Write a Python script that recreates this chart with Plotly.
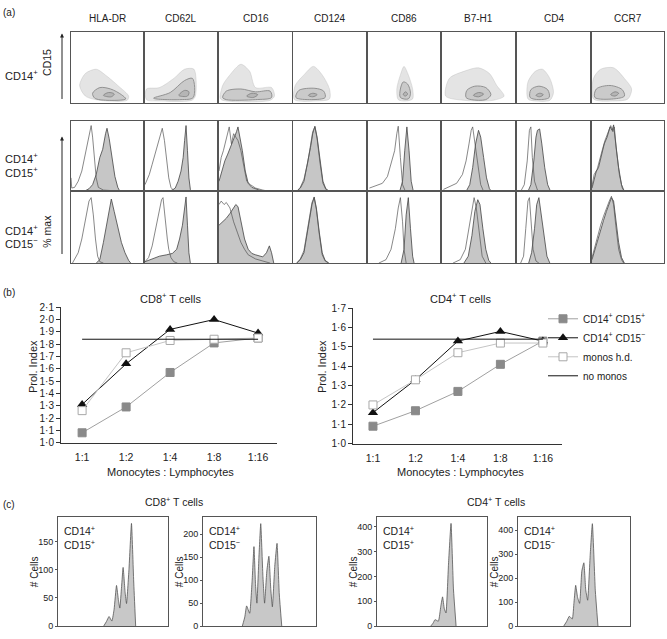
import plotly.graph_objects as go

W, H = 667, 639
FONT = "Liberation Sans, Arial, sans-serif"
INK = "#222222"

# ---------------- panel (a) data (normalised box coordinates) ----------------
markers = ["HLA-DR", "CD62L", "CD16", "CD124", "CD86", "B7-H1", "CD4", "CCR7"]

# dot-plot clouds (CD15 vs marker, CD14+ gate): outer cloud, contour, core
dot_cloud = [
    [(0.12, 0.25), (0.2, 0.42), (0.35, 0.48), (0.5, 0.38), (0.65, 0.25), (0.8, 0.1), (0.78, 0.04), (0.4, 0.04), (0.2, 0.1)],
    [(0.02, 0.05), (0.02, 0.2), (0.2, 0.22), (0.4, 0.35), (0.55, 0.48), (0.68, 0.48), (0.7, 0.1), (0.65, 0.04), (0.2, 0.03)],
    [(0.02, 0.06), (0.05, 0.25), (0.15, 0.4), (0.3, 0.55), (0.42, 0.45), (0.5, 0.22), (0.72, 0.22), (0.76, 0.1), (0.7, 0.04), (0.1, 0.03)],
    [(0.02, 0.05), (0.03, 0.25), (0.15, 0.4), (0.28, 0.52), (0.4, 0.4), (0.5, 0.2), (0.5, 0.06), (0.3, 0.03)],
    [(0.42, 0.05), (0.4, 0.2), (0.45, 0.4), (0.5, 0.52), (0.56, 0.4), (0.62, 0.2), (0.62, 0.06), (0.52, 0.03)],
    [(0.05, 0.1), (0.1, 0.35), (0.3, 0.45), (0.5, 0.5), (0.65, 0.42), (0.75, 0.25), (0.85, 0.1), (0.7, 0.04), (0.3, 0.04)],
    [(0.15, 0.06), (0.15, 0.3), (0.25, 0.45), (0.35, 0.48), (0.45, 0.35), (0.5, 0.15), (0.45, 0.04), (0.25, 0.03)],
    [(0.02, 0.06), (0.02, 0.35), (0.12, 0.48), (0.3, 0.5), (0.45, 0.35), (0.55, 0.2), (0.5, 0.06), (0.3, 0.03)],
]
dot_contour = [
    [(0.3, 0.14), (0.4, 0.22), (0.55, 0.2), (0.7, 0.12), (0.76, 0.06), (0.5, 0.04), (0.33, 0.07)],
    [(0.12, 0.07), (0.35, 0.15), (0.55, 0.32), (0.66, 0.35), (0.67, 0.08), (0.5, 0.05)],
    [(0.05, 0.08), (0.1, 0.17), (0.3, 0.2), (0.5, 0.16), (0.7, 0.17), (0.72, 0.08), (0.5, 0.05), (0.1, 0.05)],
    [(0.04, 0.08), (0.08, 0.18), (0.3, 0.21), (0.42, 0.17), (0.44, 0.08), (0.25, 0.05)],
    [(0.45, 0.08), (0.45, 0.2), (0.49, 0.3), (0.55, 0.27), (0.59, 0.14), (0.56, 0.06)],
    [(0.33, 0.08), (0.34, 0.18), (0.45, 0.24), (0.6, 0.22), (0.67, 0.12), (0.6, 0.05), (0.4, 0.05)],
    [(0.18, 0.08), (0.19, 0.19), (0.3, 0.24), (0.42, 0.19), (0.44, 0.08), (0.3, 0.05)],
    [(0.04, 0.08), (0.06, 0.2), (0.25, 0.25), (0.42, 0.19), (0.45, 0.1), (0.3, 0.06)],
]
dot_core = [
    [(0.45, 0.11), (0.52, 0.15), (0.6, 0.13), (0.56, 0.09)],
    [(0.47, 0.11), (0.55, 0.18), (0.61, 0.16), (0.59, 0.1)],
    [(0.38, 0.1), (0.45, 0.14), (0.53, 0.12), (0.47, 0.08)],
    [(0.21, 0.11), (0.27, 0.14), (0.33, 0.12), (0.27, 0.09)],
    [(0.49, 0.12), (0.52, 0.16), (0.55, 0.13), (0.52, 0.1)],
    [(0.43, 0.11), (0.5, 0.15), (0.57, 0.13), (0.5, 0.09)],
    [(0.26, 0.11), (0.31, 0.14), (0.36, 0.12), (0.31, 0.09)],
    [(0.26, 0.12), (0.32, 0.16), (0.37, 0.14), (0.32, 0.1)],
]

# % max histograms: filled = marker stain, open = isotype control
hist_pos_filled = [
    [(0.18, 0), (0.25, 0.04), (0.3, 0.1), (0.35, 0.25), (0.4, 0.5), (0.44, 0.62), (0.48, 0.85), (0.5, 0.93), (0.53, 0.78), (0.57, 0.5), (0.61, 0.22), (0.65, 0.06), (0.68, 0)],
    [(0.3, 0), (0.38, 0.02), (0.42, 0.05), (0.46, 0.15), (0.5, 0.3), (0.53, 0.5), (0.55, 0.75), (0.57, 0.97), (0.59, 0.6), (0.61, 0.2), (0.63, 0.03), (0.65, 0)],
    [(0, 0.15), (0.04, 0.3), (0.08, 0.45), (0.12, 0.55), (0.17, 0.68), (0.21, 0.8), (0.24, 0.88), (0.26, 0.95), (0.28, 0.85), (0.32, 0.6), (0.36, 0.3), (0.4, 0.12), (0.45, 0.06), (0.55, 0.02), (0.6, 0)],
    [(0.05, 0), (0.1, 0.05), (0.15, 0.15), (0.2, 0.4), (0.24, 0.65), (0.27, 0.85), (0.3, 0.96), (0.33, 0.8), (0.37, 0.45), (0.41, 0.15), (0.45, 0.04), (0.5, 0)],
    [(0.44, 0), (0.48, 0.15), (0.51, 0.6), (0.54, 0.95), (0.57, 0.6), (0.6, 0.15), (0.63, 0)],
    [(0.33, 0), (0.38, 0.1), (0.42, 0.35), (0.46, 0.7), (0.5, 0.9), (0.53, 0.8), (0.57, 0.5), (0.61, 0.2), (0.65, 0.04), (0.68, 0)],
    [(0.15, 0), (0.19, 0.1), (0.23, 0.45), (0.26, 0.8), (0.28, 0.9), (0.31, 0.92), (0.34, 0.7), (0.38, 0.35), (0.42, 0.1), (0.46, 0)],
    [(0, 0.05), (0.03, 0.2), (0.06, 0.3), (0.09, 0.35), (0.13, 0.55), (0.17, 0.7), (0.21, 0.8), (0.25, 0.95), (0.28, 0.9), (0.3, 0.98), (0.33, 0.7), (0.37, 0.35), (0.41, 0.1), (0.45, 0)],
]
hist_pos_open = [
    [(0, 0.2), (0.01, 0.05), (0.05, 0.06), (0.1, 0.15), (0.15, 0.3), (0.2, 0.55), (0.23, 0.75), (0.26, 0.9), (0.28, 0.97), (0.3, 0.8), (0.32, 0.5), (0.35, 0.2), (0.38, 0.06), (0.45, 0.02), (0.6, 0.01), (0.7, 0)],
    [(0, 0.1), (0.02, 0.15), (0.06, 0.25), (0.1, 0.4), (0.14, 0.55), (0.18, 0.7), (0.21, 0.85), (0.24, 0.93), (0.27, 0.75), (0.3, 0.45), (0.33, 0.2), (0.36, 0.06), (0.4, 0.01), (0.45, 0)],
    [(0, 0.3), (0.03, 0.5), (0.06, 0.6), (0.09, 0.75), (0.12, 0.9), (0.14, 0.95), (0.17, 0.7), (0.2, 0.85), (0.23, 0.8), (0.26, 0.75), (0.3, 0.6), (0.34, 0.35), (0.38, 0.15), (0.43, 0.1), (0.5, 0.05), (0.6, 0.02), (0.7, 0)],
    [(0.05, 0), (0.1, 0.06), (0.15, 0.18), (0.2, 0.42), (0.24, 0.68), (0.27, 0.88), (0.3, 0.95), (0.33, 0.78), (0.37, 0.42), (0.41, 0.12), (0.45, 0.03), (0.5, 0)],
    [(0.02, 0.05), (0.1, 0.08), (0.2, 0.12), (0.27, 0.22), (0.32, 0.4), (0.37, 0.6), (0.4, 0.85), (0.42, 0.96), (0.45, 0.5), (0.48, 0.1), (0.52, 0)],
    [(0.02, 0.03), (0.1, 0.07), (0.2, 0.12), (0.28, 0.25), (0.33, 0.45), (0.37, 0.7), (0.4, 0.9), (0.42, 0.95), (0.45, 0.7), (0.49, 0.35), (0.53, 0.1), (0.57, 0)],
    [(0.05, 0), (0.1, 0.1), (0.14, 0.45), (0.17, 0.9), (0.19, 0.95), (0.21, 0.5), (0.24, 0.15), (0.28, 0.02), (0.32, 0)],
    [(0, 0.08), (0.03, 0.25), (0.07, 0.32), (0.1, 0.45), (0.14, 0.6), (0.18, 0.75), (0.22, 0.85), (0.26, 0.97), (0.29, 0.88), (0.31, 0.95), (0.34, 0.6), (0.38, 0.25), (0.42, 0.05), (0.45, 0)],
]
hist_neg_filled = [
    [(0.35, 0), (0.4, 0.05), (0.45, 0.3), (0.5, 0.6), (0.54, 0.85), (0.56, 0.93), (0.6, 0.75), (0.65, 0.5), (0.7, 0.3), (0.75, 0.15), (0.8, 0.04), (0.83, 0)],
    [(0, 0.02), (0.1, 0.06), (0.2, 0.1), (0.3, 0.12), (0.38, 0.14), (0.44, 0.2), (0.48, 0.35), (0.52, 0.55), (0.55, 0.8), (0.57, 0.96), (0.59, 0.55), (0.61, 0.15), (0.63, 0)],
    [(0, 0.55), (0.05, 0.6), (0.1, 0.65), (0.15, 0.72), (0.2, 0.8), (0.23, 0.85), (0.26, 0.82), (0.3, 0.6), (0.35, 0.35), (0.4, 0.2), (0.45, 0.14), (0.5, 0.12), (0.55, 0.1), (0.6, 0.09), (0.65, 0.15), (0.69, 0.25), (0.72, 0.15), (0.75, 0)],
    [(0.05, 0), (0.1, 0.05), (0.15, 0.15), (0.19, 0.4), (0.23, 0.65), (0.26, 0.85), (0.29, 0.96), (0.32, 0.8), (0.36, 0.45), (0.4, 0.15), (0.44, 0.04), (0.49, 0)],
    [(0.46, 0), (0.5, 0.2), (0.53, 0.7), (0.56, 0.95), (0.59, 0.5), (0.62, 0.1), (0.64, 0)],
    [(0.3, 0), (0.36, 0.1), (0.41, 0.4), (0.45, 0.75), (0.49, 0.92), (0.52, 0.85), (0.56, 0.5), (0.6, 0.2), (0.64, 0.04), (0.67, 0)],
    [(0.16, 0), (0.2, 0.15), (0.24, 0.5), (0.27, 0.85), (0.3, 0.95), (0.33, 0.7), (0.37, 0.35), (0.41, 0.1), (0.45, 0)],
    [(0, 0.05), (0.04, 0.2), (0.08, 0.35), (0.12, 0.5), (0.16, 0.62), (0.2, 0.75), (0.24, 0.88), (0.27, 0.95), (0.3, 0.9), (0.33, 0.65), (0.37, 0.3), (0.41, 0.08), (0.45, 0)],
]
hist_neg_open = [
    [(0.02, 0), (0.05, 0.05), (0.1, 0.15), (0.15, 0.35), (0.2, 0.65), (0.25, 0.9), (0.28, 0.95), (0.31, 0.7), (0.34, 0.35), (0.37, 0.1), (0.4, 0.02), (0.45, 0)],
    [(0, 0.02), (0.05, 0.08), (0.1, 0.25), (0.15, 0.5), (0.2, 0.75), (0.23, 0.92), (0.25, 0.95), (0.28, 0.6), (0.31, 0.35), (0.33, 0.2), (0.36, 0.08), (0.4, 0.02), (0.45, 0)],
    [(0, 0.85), (0.03, 0.9), (0.07, 0.85), (0.1, 0.88), (0.15, 0.8), (0.2, 0.6), (0.25, 0.45), (0.3, 0.3), (0.35, 0.2), (0.4, 0.12), (0.5, 0.06), (0.6, 0.03), (0.7, 0)],
    [(0.05, 0), (0.1, 0.06), (0.15, 0.18), (0.19, 0.42), (0.23, 0.68), (0.26, 0.88), (0.29, 0.95), (0.32, 0.78), (0.36, 0.42), (0.4, 0.12), (0.44, 0.03), (0.49, 0)],
    [(0.15, 0), (0.25, 0.05), (0.32, 0.2), (0.38, 0.5), (0.42, 0.8), (0.45, 0.95), (0.48, 0.6), (0.5, 0.2), (0.53, 0)],
    [(0.15, 0), (0.25, 0.05), (0.32, 0.2), (0.37, 0.5), (0.41, 0.8), (0.44, 0.95), (0.47, 0.8), (0.51, 0.4), (0.55, 0.1), (0.6, 0)],
    [(0.05, 0), (0.09, 0.1), (0.12, 0.5), (0.15, 0.9), (0.17, 0.95), (0.19, 0.6), (0.22, 0.2), (0.26, 0.03), (0.3, 0)],
    [(0, 0.08), (0.04, 0.25), (0.08, 0.42), (0.12, 0.55), (0.16, 0.68), (0.2, 0.8), (0.24, 0.9), (0.27, 0.97), (0.3, 0.85), (0.33, 0.55), (0.37, 0.2), (0.41, 0.05), (0.44, 0)],
]

# ---------------- panel (b) data ----------------
ratios = ["1:1", "1:2", "1:4", "1:8", "1:16"]
series_names = ["CD14<sup>+</sup> CD15<sup>+</sup>", "CD14<sup>+</sup> CD15<sup>\u2212</sup>", "monos h.d.", "no monos"]
cd8_cd15pos = [1.08, 1.29, 1.57, 1.81, 1.85]
cd8_cd15neg = [1.31, 1.64, 1.92, 2.00, 1.89]
cd8_monos_hd = [1.26, 1.73, 1.83, 1.84, 1.85]
cd8_no_monos = 1.84
cd4_cd15pos = [1.09, 1.17, 1.27, 1.41, 1.53]
cd4_cd15neg = [1.16, 1.33, 1.53, 1.58, 1.53]
cd4_monos_hd = [1.20, 1.33, 1.47, 1.52, 1.52]
cd4_no_monos = 1.54
cd8_ticks = [1.0, 1.1, 1.2, 1.3, 1.4, 1.5, 1.6, 1.7, 1.8, 1.9, 2.0, 2.1]
cd4_ticks = [1.0, 1.1, 1.2, 1.3, 1.4, 1.5, 1.6, 1.7]

# ---------------- panel (c) data (x normalised, y = # cells) ----------------
c_hist_cd8_pos = [(0.415, 0), (0.44, 8), (0.464, 17), (0.49, 9), (0.51, 30), (0.532, 72), (0.55, 45), (0.562, 32), (0.578, 70), (0.592, 104), (0.61, 60), (0.623, 40), (0.645, 100), (0.668, 182), (0.688, 80), (0.706, 0)]
c_hist_cd8_neg = [(0.348, 0), (0.37, 20), (0.386, 44), (0.413, 28), (0.435, 100), (0.451, 173), (0.465, 90), (0.477, 50), (0.495, 150), (0.511, 223), (0.53, 110), (0.545, 50), (0.565, 120), (0.583, 152), (0.6, 80), (0.614, 42), (0.635, 130), (0.655, 180), (0.675, 70), (0.697, 0)]
c_hist_cd4_pos = [(0.488, 0), (0.51, 12), (0.527, 26), (0.558, 20), (0.58, 80), (0.596, 118), (0.612, 70), (0.627, 53), (0.65, 250), (0.673, 414), (0.695, 150), (0.719, 0)]
c_hist_cd4_neg = [(0.408, 0), (0.435, 20), (0.458, 41), (0.485, 30), (0.5, 100), (0.515, 170), (0.532, 120), (0.55, 95), (0.57, 230), (0.588, 264), (0.605, 150), (0.622, 108), (0.645, 300), (0.664, 427), (0.69, 150), (0.714, 0)]
c_ticks = [[0, 50, 100, 150], [0, 50, 100, 150, 200], [0, 100, 200, 300, 400], [0, 100, 200, 300, 400]]
c_labels = [("CD14<sup>+</sup>", "CD15<sup>+</sup>"), ("CD14<sup>+</sup>", "CD15<sup>\u2212</sup>"),
            ("CD14<sup>+</sup>", "CD15<sup>+</sup>"), ("CD14<sup>+</sup>", "CD15<sup>\u2212</sup>")]

# ---------------- layout helpers ----------------
fig = go.Figure()
layout = {}
annotations = []
count = [0]


def add_axes(x0, x1, y_top, y_bot, xa_extra=None, ya_extra=None):
    count[0] += 1
    i = count[0]
    s = "" if i == 1 else str(i)
    xa = dict(domain=[x0 / W, x1 / W], anchor="y" + s, showgrid=False, zeroline=False)
    ya = dict(domain=[1 - y_bot / H, 1 - y_top / H], anchor="x" + s, showgrid=False, zeroline=False)
    xa.update(xa_extra or {})
    ya.update(ya_extra or {})
    layout["xaxis" + s] = xa
    layout["yaxis" + s] = ya
    return "x" + s, "y" + s


def ann(text, px, py, size=10, xanchor="center", yanchor="middle", angle=0):
    annotations.append(dict(text=text, x=px / W, y=1 - py / H, xref="paper", yref="paper",
                            showarrow=False, xanchor=xanchor, yanchor=yanchor, textangle=angle,
                            font=dict(family=FONT, size=size, color=INK)))


def closed(poly):
    pts = list(poly) + [poly[0]]
    return [p[0] for p in pts], [p[1] for p in pts]


BOX = dict(showline=True, mirror=True, linecolor="#555555", linewidth=1.3,
           ticks="", showticklabels=False)

col_x = [(71, 143), (145, 217), (219, 292), (293, 366), (368, 440), (442, 515), (517, 590), (592, 664)]

# ---------------- panel (a) ----------------
ann("(a)", 1, 7, size=10, xanchor="left")
for k, name in enumerate(markers):
    x0, x1 = col_x[k]
    ann(name, (x0 + x1) / 2, 13, size=10)
    # dot plot
    xr, yr = add_axes(x0, x1, 27, 99, dict(BOX, range=[0, 1]), dict(BOX, range=[0, 1]))
    cx, cy = closed(dot_cloud[k])
    fig.add_trace(go.Scatter(x=cx, y=cy, xaxis=xr, yaxis=yr, mode="lines", fill="toself",
                             line=dict(width=0.6, color="rgba(170,170,170,0.5)", shape="spline", smoothing=0.8),
                             fillcolor="rgba(205,205,205,0.55)",
                             showlegend=False, hoverinfo="skip"))
    cx, cy = closed(dot_contour[k])
    fig.add_trace(go.Scatter(x=cx, y=cy, xaxis=xr, yaxis=yr, mode="lines", fill="toself",
                             line=dict(width=0.9, color="#8a8a8a", shape="spline", smoothing=0.9),
                             fillcolor="rgba(185,185,185,0.6)",
                             showlegend=False, hoverinfo="skip"))
    cx, cy = closed(dot_core[k])
    fig.add_trace(go.Scatter(x=cx, y=cy, xaxis=xr, yaxis=yr, mode="lines", fill="toself",
                             line=dict(width=0.8, color="#808080", shape="spline", smoothing=1),
                             fillcolor="rgba(175,175,175,0.8)",
                             showlegend=False, hoverinfo="skip"))
    # histograms
    for (yt, yb, filled, opened) in [(117, 189, hist_pos_filled[k], hist_pos_open[k]),
                                     (189, 262, hist_neg_filled[k], hist_neg_open[k])]:
        xr, yr = add_axes(x0, x1, yt, yb, dict(BOX, range=[0, 1]), dict(BOX, range=[0, 1.04]))
        fig.add_trace(go.Scatter(x=[p[0] for p in filled], y=[p[1] for p in filled], xaxis=xr, yaxis=yr,
                                 mode="lines", fill="tozeroy", fillcolor="#c6c6c6",
                                 line=dict(width=0.8, color="#444444"), showlegend=False, hoverinfo="skip"))
        fig.add_trace(go.Scatter(x=[p[0] for p in opened], y=[p[1] for p in opened], xaxis=xr, yaxis=yr,
                                 mode="lines", line=dict(width=0.7, color="#555555"),
                                 showlegend=False, hoverinfo="skip"))

ann("CD14<sup>+</sup>", 3, 70, size=11, xanchor="left")
ann("CD14<sup>+</sup>", 3, 155, size=11, xanchor="left")
ann("CD15<sup>+</sup>", 3, 169, size=11, xanchor="left")
ann("CD14<sup>+</sup>", 3, 228, size=11, xanchor="left")
ann("CD15<sup>\u2212</sup>", 3, 242, size=11, xanchor="left")
ann("CD15", 47, 58, size=10.5, angle=-90)
ann("% max", 47, 230, size=10.5, angle=-90)
for (tail, head) in [(95, 28), (252, 133)]:
    annotations.append(dict(x=62 / W, y=1 - head / H, xref="paper", yref="paper", text="",
                            showarrow=True, ax=0, ay=tail - head, arrowhead=2, arrowsize=0.8,
                            arrowwidth=1, arrowcolor=INK))

# ---------------- panel (b) ----------------
ann("(b)", 1, 292, size=10, xanchor="left")


def fmt(v):
    return f"{v:.1f}".replace(".", "\u00b7")


def line_chart(x0, x1, yt, yb, xrange, ticks, title, tcx, ylab_x, d_pos, d_neg, d_hd, d_none, legend):
    xa = dict(type="category", categoryarray=ratios, range=xrange, showline=True, linecolor="#333333",
              linewidth=1, ticks="outside", ticklen=5, tickcolor="rgba(0,0,0,0)",
              tickfont=dict(family=FONT, size=10.5, color=INK))
    ya = dict(range=[ticks[0], ticks[-1]], tickvals=ticks, ticktext=[fmt(v) for v in ticks], showline=True,
              linecolor="#333333", linewidth=1, ticks="outside", ticklen=4, tickcolor="#333333",
              tickfont=dict(family=FONT, size=10, color=INK))
    xr, yr = add_axes(x0, x1, yt, yb, xa, ya)
    fig.add_trace(go.Scatter(x=ratios, y=d_pos, xaxis=xr, yaxis=yr, mode="lines+markers", name=series_names[0],
                             line=dict(color="#a0a0a0", width=1),
                             marker=dict(symbol="square", size=8, color="#8a8a8a", line=dict(color="#8a8a8a", width=1)),
                             showlegend=legend, legendrank=1))
    fig.add_trace(go.Scatter(x=ratios, y=d_neg, xaxis=xr, yaxis=yr, mode="lines+markers", name=series_names[1],
                             line=dict(color="#111111", width=1),
                             marker=dict(symbol="triangle-up", size=9, color="#111111"),
                             showlegend=legend, legendrank=2))
    fig.add_trace(go.Scatter(x=ratios, y=d_hd, xaxis=xr, yaxis=yr, mode="lines+markers", name=series_names[2],
                             line=dict(color="#c4c4c4", width=1),
                             marker=dict(symbol="square", size=8, color="white", line=dict(color="#a8a8a8", width=1)),
                             showlegend=legend, legendrank=3))
    fig.add_trace(go.Scatter(x=[ratios[0], ratios[-1]], y=[d_none, d_none], xaxis=xr, yaxis=yr, mode="lines",
                             name=series_names[3], line=dict(color="#111111", width=1),
                             showlegend=legend, legendrank=4))
    ann(title, tcx, 298, size=11)
    ann("Monocytes : Lymphocytes", tcx, 475, size=11)
    ann("Prol. Index", ylab_x, 368, size=11, angle=-90)


line_chart(61, 277, 307, 445, [-0.48, 4.43], cd8_ticks, "CD8<sup>+</sup> T cells", 170, 33,
           cd8_cd15pos, cd8_cd15neg, cd8_monos_hd, cd8_no_monos, False)
line_chart(353, 562, 308, 446, [-0.47, 4.45], cd4_ticks, "CD4<sup>+</sup> T cells", 460, 322,
           cd4_cd15pos, cd4_cd15neg, cd4_monos_hd, cd4_no_monos, True)

# ---------------- panel (c) ----------------
ann("(c)", 1, 508, size=10, xanchor="left")
ann("CD8<sup>+</sup> T cells", 174, 505, size=10.5)
ann("CD4<sup>+</sup> T cells", 496, 505, size=10.5)
c_boxes = [(58, 168), (203, 316), (377, 487), (518, 630)]
c_ymax = [193, 237, 439, 454]
for k, hist in enumerate([c_hist_cd8_pos, c_hist_cd8_neg, c_hist_cd4_pos, c_hist_cd4_neg]):
    x0, x1 = c_boxes[k]
    ya = dict(showline=True, mirror=True, linecolor="#555555", linewidth=1, range=[0, c_ymax[k]],
              tickvals=c_ticks[k], ticks="outside", ticklen=2, tickcolor="#555555",
              tickfont=dict(family=FONT, size=9, color=INK))
    xa = dict(BOX, range=[0, 1], linewidth=1)
    xr, yr = add_axes(x0, x1, 521, 632, xa, ya)
    fig.add_trace(go.Scatter(x=[p[0] for p in hist], y=[p[1] for p in hist], xaxis=xr, yaxis=yr,
                             mode="lines", fill="tozeroy", fillcolor="#c8c8c8",
                             line=dict(width=0.8, color="#555555", shape="spline", smoothing=0.4),
                             showlegend=False, hoverinfo="skip"))
    ann(c_labels[k][0], x0 + 4, 535, size=10.5, xanchor="left")
    ann(c_labels[k][1], x0 + 4, 549, size=10.5, xanchor="left")
    ann("# Cells", x0 - 24, 577, size=10, angle=-90)

fig.update_layout(
    width=W, height=H, margin=dict(l=0, r=0, t=0, b=0),
    paper_bgcolor="white", plot_bgcolor="white",
    font=dict(family=FONT, size=10, color=INK),
    annotations=annotations,
    legend=dict(x=543 / W, y=1 - 304 / H, xanchor="left", yanchor="top", bgcolor="rgba(0,0,0,0)",
                font=dict(family=FONT, size=10, color=INK), itemwidth=30, tracegroupgap=0,
                traceorder="normal"),
    **layout,
)
fig.write_html("out.html", config={"displayModeBar": False},
               post_script="document.body.style.margin='0px';")
